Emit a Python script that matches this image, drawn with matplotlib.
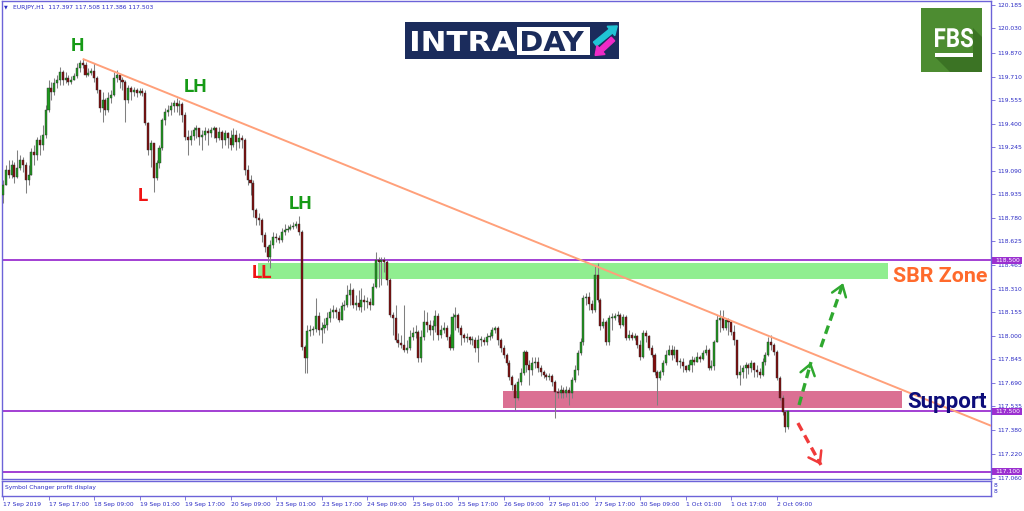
import matplotlib
matplotlib.use("Agg")
import matplotlib.pyplot as plt
from matplotlib.patches import Rectangle, Polygon, FancyArrow, PathPatch
from matplotlib.transforms import blended_transform_factory, Affine2D
from matplotlib.textpath import TextPath
from matplotlib.font_manager import FontProperties

# ---------------- data ----------------
header_text = "EURJPY,H1  117.397 117.508 117.386 117.503"
first_open = 118.931

close = [
    118.997, 119.096, 119.063, 119.129, 119.050, 119.109, 119.162, 119.129, 119.030, 119.063,
    119.215, 119.195, 119.294, 119.261, 119.327, 119.492, 119.637, 119.611, 119.670, 119.690,
    119.743, 119.690, 119.703, 119.677, 119.690, 119.716, 119.769, 119.802, 119.789, 119.723,
    119.736, 119.749, 119.703, 119.624, 119.505, 119.558, 119.492, 119.571, 119.591, 119.703,
    119.723, 119.690, 119.677, 119.558, 119.637, 119.611, 119.624, 119.604, 119.617, 119.604,
    119.406, 119.228, 119.274, 119.043, 119.142, 119.241, 119.426, 119.479, 119.492, 119.518,
    119.538, 119.518, 119.532, 119.459, 119.314, 119.294, 119.320, 119.360, 119.373, 119.314,
    119.327, 119.353, 119.340, 119.360, 119.373, 119.307, 119.347, 119.294, 119.340, 119.307,
    119.261, 119.327, 119.281, 119.307, 119.294, 119.096, 119.030, 119.010, 118.832, 118.779,
    118.766, 118.667, 118.588, 118.522, 118.601, 118.654, 118.647, 118.634, 118.687, 118.700,
    118.707, 118.720, 118.726, 118.740, 118.687, 117.928, 117.855, 118.033, 118.040, 118.047,
    118.132, 118.040, 118.053, 118.073, 118.119, 118.159, 118.172, 118.159, 118.106, 118.198,
    118.205, 118.271, 118.304, 118.205, 118.218, 118.192, 118.238, 118.225, 118.225, 118.205,
    118.324, 118.502, 118.489, 118.502, 118.489, 118.370, 118.139, 118.119, 117.974, 117.954,
    117.941, 117.908, 117.921, 117.994, 118.020, 118.027, 117.855, 117.994, 118.093, 118.073,
    118.040, 118.066, 118.132, 118.007, 118.040, 118.053, 117.994, 117.921, 118.126, 118.139,
    118.053, 118.007, 117.987, 117.994, 117.974, 117.974, 117.921, 117.974, 117.974, 117.961,
    117.994, 118.000, 118.040, 118.053, 117.974, 117.921, 117.875, 117.822, 117.730, 117.677,
    117.591, 117.697, 117.756, 117.895, 117.809, 117.776, 117.822, 117.829, 117.789, 117.763,
    117.743, 117.730, 117.736, 117.697, 117.631, 117.624, 117.644, 117.624, 117.644, 117.624,
    117.710, 117.776, 117.888, 117.961, 118.251, 118.258, 118.212, 118.172, 118.403, 118.238,
    118.066, 118.093, 117.961, 118.119, 118.119, 118.132, 118.139, 118.073, 118.126, 117.987,
    118.007, 117.987, 118.000, 117.941, 117.862, 118.020, 118.000, 117.921, 117.875, 117.763,
    117.723, 117.763, 117.822, 117.875, 117.908, 117.875, 117.908, 117.829, 117.829, 117.802,
    117.776, 117.809, 117.842, 117.829, 117.862, 117.849, 117.888, 117.908, 117.789, 117.802,
    117.961, 118.106, 118.119, 118.053, 118.106, 118.093, 118.027, 117.974, 117.743, 117.763,
    117.789, 117.809, 117.789, 117.822, 117.776, 117.763, 117.743, 117.829, 117.875, 117.961,
    117.941, 117.895, 117.723, 117.591, 117.499, 117.397, 117.503]

high = [
    119.030, 119.129, 119.162, 119.162, 119.149, 119.228, 119.195, 119.182, 119.149, 119.129,
    119.241, 119.261, 119.314, 119.327, 119.393, 119.525, 119.690, 119.677, 119.703, 119.723,
    119.776, 119.756, 119.743, 119.723, 119.716, 119.736, 119.802, 119.822, 119.829, 119.809,
    119.769, 119.769, 119.802, 119.716, 119.624, 119.611, 119.571, 119.611, 119.624, 119.743,
    119.756, 119.723, 119.710, 119.690, 119.657, 119.650, 119.644, 119.637, 119.637, 119.637,
    119.624, 119.413, 119.294, 119.228, 119.162, 119.261, 119.439, 119.505, 119.525, 119.545,
    119.558, 119.571, 119.558, 119.545, 119.479, 119.360, 119.360, 119.380, 119.393, 119.373,
    119.360, 119.380, 119.373, 119.380, 119.386, 119.380, 119.380, 119.360, 119.360, 119.347,
    119.360, 119.373, 119.360, 119.340, 119.327, 119.307, 119.129, 119.063, 119.030, 118.845,
    118.812, 118.779, 118.687, 118.601, 118.634, 118.687, 118.680, 118.667, 118.713, 118.740,
    118.733, 118.740, 118.753, 118.759, 118.792, 118.700, 117.941, 118.073, 118.073, 118.066,
    118.251, 118.159, 118.093, 118.119, 118.159, 118.185, 118.205, 118.192, 118.185, 118.225,
    118.238, 118.337, 118.350, 118.317, 118.271, 118.304, 118.317, 118.271, 118.258, 118.251,
    118.350, 118.555, 118.522, 118.522, 118.522, 118.502, 118.383, 118.159, 118.205, 118.020,
    118.007, 118.205, 117.974, 118.040, 118.060, 118.073, 118.040, 118.040, 118.172, 118.159,
    118.106, 118.106, 118.172, 118.152, 118.073, 118.093, 118.073, 118.014, 118.152, 118.192,
    118.152, 118.073, 118.020, 118.020, 118.000, 118.000, 117.994, 118.007, 118.000, 117.994,
    118.020, 118.027, 118.060, 118.066, 118.066, 117.987, 117.941, 117.888, 117.842, 117.743,
    117.690, 117.723, 117.789, 117.908, 117.908, 117.842, 117.862, 117.862, 117.862, 117.809,
    117.776, 117.756, 117.756, 117.750, 117.710, 117.657, 117.677, 117.664, 117.670, 117.664,
    117.730, 117.809, 117.908, 117.987, 118.271, 118.284, 118.291, 118.238, 118.469, 118.482,
    118.251, 118.119, 118.106, 118.139, 118.152, 118.152, 118.165, 118.152, 118.146, 118.139,
    118.040, 118.027, 118.020, 118.007, 117.974, 118.040, 118.040, 118.007, 117.941, 117.888,
    117.776, 117.776, 117.842, 117.908, 117.941, 117.941, 117.934, 117.908, 117.855, 117.855,
    117.809, 117.842, 117.868, 117.862, 117.895, 117.875, 117.908, 117.941, 117.921, 117.842,
    117.974, 118.139, 118.172, 118.172, 118.119, 118.119, 118.106, 118.073, 117.974, 117.809,
    117.809, 117.829, 117.822, 117.842, 117.829, 117.809, 117.789, 117.855, 117.895, 117.994,
    118.007, 117.954, 117.908, 117.736, 117.611, 117.512, 117.508]

low = [
    118.878, 118.997, 119.043, 119.043, 119.010, 119.043, 119.096, 119.083, 118.944, 118.997,
    119.096, 119.129, 119.162, 119.195, 119.228, 119.307, 119.479, 119.558, 119.591, 119.637,
    119.657, 119.657, 119.670, 119.657, 119.664, 119.690, 119.703, 119.743, 119.769, 119.710,
    119.716, 119.723, 119.677, 119.604, 119.479, 119.413, 119.459, 119.479, 119.538, 119.584,
    119.677, 119.637, 119.624, 119.413, 119.538, 119.558, 119.584, 119.578, 119.591, 119.584,
    119.393, 119.195, 119.116, 118.951, 119.030, 119.109, 119.228, 119.393, 119.452, 119.459,
    119.479, 119.479, 119.459, 119.413, 119.294, 119.195, 119.261, 119.294, 119.307, 119.261,
    119.228, 119.294, 119.261, 119.314, 119.307, 119.281, 119.294, 119.241, 119.261, 119.241,
    119.228, 119.248, 119.228, 119.241, 119.241, 119.063, 118.997, 118.931, 118.786, 118.733,
    118.733, 118.621, 118.555, 118.489, 118.449, 118.581, 118.621, 118.614, 118.621, 118.667,
    118.687, 118.700, 118.707, 118.713, 118.667, 117.908, 117.756, 117.756, 118.000, 118.007,
    118.027, 118.007, 117.954, 118.020, 118.040, 118.093, 118.119, 118.119, 118.093, 118.106,
    118.172, 118.192, 118.205, 118.185, 118.172, 118.172, 118.159, 118.172, 118.185, 118.172,
    118.205, 118.317, 118.324, 118.337, 118.423, 118.337, 118.126, 118.007, 117.961, 117.928,
    117.921, 117.895, 117.888, 117.908, 117.974, 117.987, 117.829, 117.829, 117.974, 118.027,
    118.007, 117.974, 118.027, 117.974, 117.987, 118.020, 117.974, 117.908, 117.908, 118.040,
    118.027, 117.941, 117.961, 117.961, 117.948, 117.941, 117.895, 117.829, 117.934, 117.941,
    117.941, 117.974, 117.987, 118.020, 117.941, 117.895, 117.855, 117.809, 117.710, 117.644,
    117.512, 117.578, 117.677, 117.743, 117.763, 117.677, 117.743, 117.789, 117.763, 117.736,
    117.723, 117.710, 117.710, 117.670, 117.459, 117.591, 117.591, 117.591, 117.598, 117.545,
    117.591, 117.697, 117.743, 117.875, 117.941, 118.205, 118.172, 118.152, 118.159, 118.225,
    118.040, 118.053, 117.941, 117.941, 118.040, 118.106, 118.093, 118.053, 118.066, 117.974,
    117.974, 117.974, 117.974, 117.921, 117.842, 117.855, 117.961, 117.908, 117.862, 117.743,
    117.545, 117.710, 117.743, 117.809, 117.875, 117.842, 117.855, 117.809, 117.789, 117.763,
    117.763, 117.769, 117.763, 117.809, 117.829, 117.829, 117.842, 117.875, 117.776, 117.776,
    117.776, 117.961, 118.027, 118.040, 118.040, 118.007, 118.007, 117.941, 117.723, 117.677,
    117.723, 117.723, 117.750, 117.763, 117.730, 117.730, 117.723, 117.736, 117.809, 117.868,
    117.908, 117.875, 117.710, 117.578, 117.479, 117.367, 117.386]

time_labels = ["17 Sep 2019", "17 Sep 17:00", "18 Sep 09:00", "19 Sep 01:00", "19 Sep 17:00",
               "20 Sep 09:00", "23 Sep 01:00", "23 Sep 17:00", "24 Sep 09:00", "25 Sep 01:00",
               "25 Sep 17:00", "26 Sep 09:00", "27 Sep 01:00", "27 Sep 17:00", "30 Sep 09:00",
               "1 Oct 01:00", "1 Oct 17:00", "2 Oct 09:00"]
bars_per_time_label = 16

price_ticks = [120.185, 120.030, 119.870, 119.710, 119.555, 119.400, 119.245, 119.090,
               118.935, 118.780, 118.625, 118.465, 118.310, 118.155, 118.000, 117.845,
               117.690, 117.535, 117.380, 117.220, 117.060]
level_lines = [118.500, 117.500, 117.100]

sbr_zone_bars = [89.6, 311.1]
sbr_zone_prices = [118.375, 118.480]
support_zone_bars = [175.7, 316.0]
support_zone_prices = [117.522, 117.635]

trend_bars = [28, 347.3]
trend_prices = [119.829, 117.405]

swing_texts = ["H", "LH", "L", "LH", "LL"]
swing_bars = [26.0, 67.8, 49.2, 104.6, 91.0]
swing_prices = [119.881, 119.610, 118.890, 118.837, 118.381]
swing_colors = ["#169a16", "#169a16", "#f01414", "#169a16", "#f01414"]

zone_texts = ["SBR Zone", "Support"]
zone_text_bars = [312.8, 317.8]
zone_text_prices = [118.355, 117.522]
zone_text_colors = ["#ff6a2c", "#0d0d7a"]
zone_text_sizes = [15.4, 16.0]

up_arrow1 = ([279.8, 284.0], [117.542, 117.826])
up_arrow2 = ([287.5, 295.3], [117.925, 118.348])
down_arrow = ([279.4, 287.5], [117.423, 117.146])

# ---------------- layout ----------------
W, H = 1024, 511
fig = plt.figure(figsize=(W / 100, H / 100), dpi=100)
frame_col = "#6c63d8"
text_blue = "#2a2ac4"
purple = "#9b30d0"

def fx(px):
    return px / W

def fy(py):
    return 1 - py / H

main_l, main_r, main_t, main_b = 2, 991, 1, 479
ax = fig.add_axes([fx(main_l), fy(main_b), fx(main_r - main_l), (main_b - main_t) / H])
n = len(close)
idx = list(range(n))
ax.set_xlim(-0.351, 347.27)
ax.set_ylim(117.0533, 120.2114)

opens = [first_open] + close[:-1]
hi = [max(h, o, c) for h, o, c in zip(high, opens, close)]
lo = [min(l, o, c) for l, o, c in zip(low, opens, close)]

# zones
ax.add_patch(Rectangle((sbr_zone_bars[0], sbr_zone_prices[0]), sbr_zone_bars[1] - sbr_zone_bars[0],
                       sbr_zone_prices[1] - sbr_zone_prices[0], fc="#90ee90", ec="none", zorder=1))
ax.add_patch(Rectangle((support_zone_bars[0], support_zone_prices[0]), support_zone_bars[1] - support_zone_bars[0],
                       support_zone_prices[1] - support_zone_prices[0], fc="#db7093", ec="none", zorder=1))

for lv in level_lines:
    ax.axhline(lv, color=purple, lw=1.3, zorder=2)

# candles
ax.vlines(idx, lo, hi, color="#808080", lw=0.75, zorder=3)
bottoms = [min(o, c) for o, c in zip(opens, close)]
heights = [max(abs(c - o), 0.004) for o, c in zip(opens, close)]
cols = ["#1f9a1f" if c >= o else "#800c0c" for o, c in zip(opens, close)]
ax.bar(idx, heights, bottom=bottoms, width=0.72, color=cols, edgecolor="#2e2e2e", linewidth=0.3, zorder=4)

# trend line
ax.plot(trend_bars, trend_prices, color="#ffa07a", lw=1.4, zorder=5, solid_capstyle="butt")

# swing labels
for t, b, p, c in zip(swing_texts, swing_bars, swing_prices, swing_colors):
    ax.text(b, p, t, color=c, fontsize=13.5, fontweight="bold", family="Roboto",
            ha="center", va="baseline", zorder=6)
for t, b, p, c, s in zip(zone_texts, zone_text_bars, zone_text_prices, zone_text_colors, zone_text_sizes):
    ax.text(b, p, t, color=c, fontsize=s, fontweight="bold", family="Roboto",
            ha="left", va="baseline", zorder=6, clip_on=True)

# dashed arrows
def dashed_arrow(xs, ys, color):
    ax.plot(xs, ys, color=color, lw=2.4, ls=(0, (2.6, 1.6)), zorder=6, dash_capstyle="butt")
    dx = xs[1] - xs[0]
    dy = ys[1] - ys[0]
    ax.annotate("", xy=(xs[1], ys[1]), xytext=(xs[1] - 0.12 * dx, ys[1] - 0.12 * dy),
                arrowprops=dict(arrowstyle="->,head_length=0.5,head_width=0.35", color=color,
                                lw=1.8, mutation_scale=15, shrinkA=0, shrinkB=0), zorder=6)

dashed_arrow(*up_arrow1, "#2fa82f")
dashed_arrow(*up_arrow2, "#2fa82f")
dashed_arrow(*down_arrow, "#f03a3a")

# axes styling
for s in ax.spines.values():
    s.set_color(frame_col)
    s.set_linewidth(1.0)
ax.set_xticks([])
ax.yaxis.tick_right()
ax.set_yticks(price_ticks)
ax.set_yticklabels([f"{v:.3f}" for v in price_ticks])
ax.tick_params(axis="y", length=3, width=0.6, pad=1.5, labelsize=4.3, color=frame_col,
               labelcolor=text_blue)

# level price boxes on right axis
blend = blended_transform_factory(ax.transAxes, ax.transData)
box_w = 30 / (main_r - main_l)
box_h = 7 * (120.2114 - 117.0533) / (main_b - main_t)
for lv in level_lines:
    ax.add_patch(Rectangle((1.001, lv - box_h / 2), box_w, box_h, transform=blend, fc=purple,
                           ec="none", clip_on=False, zorder=10))
    ax.text(1.004, lv, f"{lv:.3f}", transform=blend, color="white", fontsize=4.3,
            ha="left", va="center", clip_on=False, zorder=11)

# sub window
ax2 = fig.add_axes([fx(main_l), fy(496), fx(main_r - main_l), 15.5 / H])
ax2.set_xlim(ax.get_xlim())
ax2.set_ylim(0, 1)
for s in ax2.spines.values():
    s.set_color(frame_col)
    s.set_linewidth(1.0)
ax2.set_yticks([])
tick_pos = [k * bars_per_time_label for k in range(len(time_labels))]
ax2.set_xticks(tick_pos)
ax2.set_xticklabels(time_labels, ha="left")
ax2.tick_params(axis="x", length=3, width=0.6, pad=1.0, labelsize=4.3, color=frame_col,
                labelcolor=text_blue)
ax2.text(0.003, 0.55, "Symbol Changer profit display", transform=ax2.transAxes, fontsize=4.3,
         color=text_blue, ha="left", va="center")
fig.text(fx(994), fy(485), "8", fontsize=4.3, color=text_blue, ha="left", va="center")
fig.text(fx(994), fy(491), "8", fontsize=4.3, color=text_blue, ha="left", va="center")

# header
fig.text(fx(4), fy(7), "\u25bc", fontsize=3.5, color=text_blue, ha="left", va="center")
fig.text(fx(13), fy(7), header_text, fontsize=4.3, color=text_blue, ha="left", va="center")

# overlay for logos (pixel coords, y downwards)
ov = fig.add_axes([0, 0, 1, 1], zorder=20)
ov.set_xlim(0, W)
ov.set_ylim(H, 0)
ov.axis("off")
ov.patch.set_alpha(0)

def fitted_text(s, x0, x1, ytop, ybase, color, family, weight="bold"):
    tp = TextPath((0, 0), s, size=100, prop=FontProperties(family=family, weight=weight))
    ext = tp.get_extents()
    sx = (x1 - x0) / ext.width
    sy = (ybase - ytop) / ext.y1
    tr = Affine2D().translate(-ext.x0, 0).scale(sx, -sy).translate(x0, ybase)
    ov.add_patch(PathPatch(tr.transform_path(tp), fc=color, ec="none"))

# INTRADAY logo
ov.add_patch(Rectangle((405, 22), 214, 37, fc="#1b2c5c", ec="none"))
ov.add_patch(Rectangle((517, 27), 73, 28, fc="white", ec="none"))
fitted_text("INTRA", 412, 515, 31, 51, "white", "DejaVu Sans")
fitted_text("DAY", 522, 584, 31, 51, "#1b2c5c", "DejaVu Sans")
ov.add_patch(FancyArrow(595, 44, 16, -13, width=5, head_width=12, head_length=8,
                        length_includes_head=False, color="#20c4d4"))
ov.add_patch(FancyArrow(613, 39, -12, 11, width=5, head_width=12, head_length=8,
                        length_includes_head=False, color="#ee2ac6"))

# FBS logo
ov.add_patch(Rectangle((921, 8), 61, 64, fc="#4d8c31", ec="none"))
ov.add_patch(Polygon([(935, 57), (973, 57), (973, 28), (982, 37), (982, 72), (950, 72)],
                     closed=True, fc="#3b7324", ec="none"))
fitted_text("FBS", 935, 973, 28, 47, "white", "Roboto")
ov.add_patch(Rectangle((935, 53.5), 38, 3.2, fc="white", ec="none"))

fig.savefig("out.png", dpi=100)
